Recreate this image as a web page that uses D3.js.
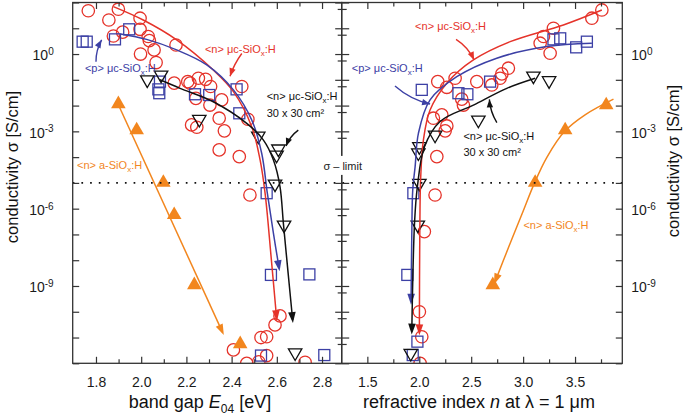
<!DOCTYPE html>
<html><head><meta charset="utf-8">
<script src="https://cdn.jsdelivr.net/npm/d3@7"></script>
<style>body{margin:0;background:#fff}svg{font-family:"Liberation Sans",Arial,sans-serif;display:block}</style>
</head><body><svg id="c" width="685" height="420"></svg>
<script>
// ---- data: [x, log10(conductivity / S cm^-1)] ----
// left panel: band gap E04 [eV]
const nMicroGap = [[1.766,1.68],[1.899,1.74],[1.857,1.32],[1.995,1.39],[1.918,0.85],[1.877,0.70],[1.995,0.96],[2.031,0.68],[2.036,0.52],[2.057,0.16],[1.997,0.0],[2.154,0.35],[2.066,-0.33],[2.146,-1.13],[2.206,-1.07],[2.216,-1.13],[2.253,-0.94],[2.285,-0.98],[2.307,-1.26],[2.242,-1.72],[2.304,-1.98],[2.356,-1.78],[2.345,-2.49],[2.223,-2.75],[2.246,-2.84],[2.368,-2.98],[2.345,-3.72],[2.434,-3.98],[2.445,-1.26],[2.472,-2.53],[2.481,-5.47],[2.408,-11.48],[2.530,-11.0],[2.555,-10.97],[2.592,-10.51],[2.614,-10.16],[2.555,-11.70],[2.467,-12.0],[2.52,-11.94],[2.725,-11.96]];
const pMicroGap = [[1.741,0.48],[1.759,0.48],[1.884,0.57],[1.947,0.96],[2.083,-1.07],[2.076,-1.37],[2.080,-1.52],[2.238,-1.56],[2.301,-1.59],[2.422,-1.37],[2.434,-2.30],[2.555,-5.40],[2.574,-8.57],[2.744,-8.55],[2.530,-11.70],[2.810,-11.68]];
const nLargeGap = [[2.027,-1.0],[2.088,-0.81],[2.257,-2.53],[2.518,-3.18],[2.607,-3.68],[2.599,-3.92],[2.592,-5.04],[2.632,-6.63],[2.681,-11.59]];
const nAmorphGap = [[1.899,-1.94],[1.980,-2.95],[2.098,-4.99],[2.146,-6.24],[2.235,-8.96],[2.438,-11.25]];
// guide curves (left)
const nMicroGapFit = [[1.877,1.84],[2.009,1.32],[2.157,0.55],[2.319,-0.62],[2.408,-1.46],[2.489,-2.82],[2.526,-4.11],[2.548,-5.40],[2.574,-7.8],[2.599,-10.25]];
const pMicroGapFit = [[1.909,0.78],[2.024,0.57],[2.157,0.16],[2.290,-0.42],[2.408,-1.39],[2.489,-2.56],[2.533,-3.85],[2.558,-5.40],[2.584,-6.9],[2.610,-8.31]];
const nLargeGapFit = [[2.083,-1.0],[2.172,-1.33],[2.319,-1.85],[2.467,-2.69],[2.540,-3.33],[2.585,-4.11],[2.614,-5.14],[2.629,-6.57],[2.650,-8.5],[2.670,-10.32]];
const nAmorphGapFit = [[1.891,-1.81],[2.36,-10.8]];
// right panel: refractive index n at 1 um
const nMicroN = [[3.758,1.71],[3.662,1.39],[3.292,1.0],[3.196,0.68],[3.164,0.42],[3.260,0.03],[2.858,-0.55],[2.795,-0.77],[2.778,-0.94],[2.698,-1.20],[2.554,-1.07],[2.345,-0.94],[2.178,-1.07],[2.265,-1.29],[2.409,-1.75],[2.425,-1.98],[2.217,-2.36],[2.136,-2.49],[2.265,-2.79],[2.249,-2.98],[2.169,-3.98],[2.152,-5.47],[2.049,-6.89],[2.001,-10.0],[2.024,-10.97],[2.008,-12.0]];
const pMicroN = [[3.614,0.48],[3.511,0.26],[3.357,0.61],[3.292,0.57],[2.024,-1.39],[2.377,-1.52],[2.463,-1.56],[2.682,-1.07],[1.943,-5.40],[1.885,-8.57],[1.982,-11.16],[1.937,-11.68]];
const nLargeN = [[3.099,-0.85],[3.250,-1.03],[2.569,-2.56],[2.152,-3.14],[2.001,-3.59],[1.991,-3.83],[2.001,-5.01],[1.986,-6.63],[1.918,-11.61]];
const nAmorphN = [[3.800,-1.98],[3.405,-2.95],[3.116,-4.99],[2.708,-8.96]];
// guide curves (right)
const nMicroNFit = [[3.758,1.71],[3.388,1.13],[2.875,0.48],[2.521,-0.23],[2.265,-1.13],[2.104,-2.17],[2.040,-3.33],[2.014,-4.76],[2.005,-7.0],[2.001,-10.8]];
const pMicroNFit = [[3.662,0.42],[3.228,0.29],[2.746,-0.16],[2.361,-0.88],[2.104,-1.78],[1.992,-3.07],[1.960,-4.37],[1.937,-5.28],[1.928,-7.0],[1.921,-9.61]];
const nLargeNFit = [[3.116,-0.94],[2.843,-1.33],[2.521,-1.98],[2.2,-2.62],[2.05,-3.6],[1.982,-5.14],[1.955,-6.5],[1.928,-10.77]];
const nAmorphNFit = [[3.87,-1.75],[3.60,-2.35],[3.40,-3.0],[3.23,-4.0],[3.11,-5.0],[2.99,-6.2],[2.86,-7.5],[2.73,-8.83]];
// ticks
const gapMajor = [1.8,2.0,2.2,2.4,2.6,2.8];
const gapMinor = [1.9,2.1,2.3,2.5,2.7];
const nMajor = [1.5,2.0,2.5,3.0,3.5];
const nMinor = [1.75,2.25,2.75,3.25,3.75];
const decades = d3.range(-12,3).map(e=>Math.pow(10,e));
const labeledDecades = [0,-3,-6,-9];
const sigmaLimit = -5;

// ---- layout ----
const red="#e5332a", blue="#3c40a5", orange="#f2861e", black="#111";
const svg=d3.select("#c");
const B={l:72.7,m:341.7,r:622.3,t:2.5,b:363.3};
const xL=d3.scaleLinear().domain([1.697,2.887]).range([B.l,B.m]);
const xR=d3.scaleLinear().domain([1.253,3.955]).range([B.m,B.r]);
const y=d3.scaleLog().domain([1e-12,1e2]).range([B.b,B.t]);
const Y=v=>y(Math.pow(10,v));

const defs=svg.append("defs");
defs.append("clipPath").attr("id","cl").append("rect").attr("x",B.l).attr("y",B.t).attr("width",B.m-B.l).attr("height",B.b-B.t);
defs.append("clipPath").attr("id","cr").append("rect").attr("x",B.m).attr("y",B.t).attr("width",B.r-B.m).attr("height",B.b-B.t);

function head(g,x2,y2,x1,y1,color,L=10,W=3.6){
  const a=Math.atan2(y2-y1,x2-x1);
  const bx=x2-L*Math.cos(a), by=y2-L*Math.sin(a);
  const px=-Math.sin(a)*W, py=Math.cos(a)*W;
  g.append("path").attr("d",`M${x2},${y2}L${bx+px},${by+py}L${bx-px},${by-py}Z`).attr("fill",color);
}

function panel(clip,x,S){
  const g=svg.append("g").attr("clip-path",`url(#${clip})`);
  const circ=g.append("g");
  circ.selectAll("circle").data(S.red).join("circle").attr("cx",d=>x(d[0])).attr("cy",d=>Y(d[1])).attr("r",6.2).attr("fill","none").attr("stroke",red).attr("stroke-width",1.3);
  g.append("g").selectAll("rect").data(S.blue).join("rect").attr("x",d=>x(d[0])-5.5).attr("y",d=>Y(d[1])-5.5).attr("width",11).attr("height",11).attr("fill","none").attr("stroke",blue).attr("stroke-width",1.3);
  const tri=d3.symbol(d3.symbolTriangle,78);
  g.append("g").selectAll("path").data(S.black).join("path").attr("d",tri).attr("transform",d=>`translate(${x(d[0])},${Y(d[1])}) rotate(180)`).attr("fill","none").attr("stroke",black).attr("stroke-width",1.3);
  const tri2=d3.symbol(d3.symbolTriangle,92);
  g.append("g").selectAll("path").data(S.orange).join("path").attr("d",tri2).attr("transform",d=>`translate(${x(d[0])},${Y(d[1])})`).attr("fill",orange);
  const line=d3.line().x(d=>x(d[0])).y(d=>Y(d[1])).curve(d3.curveCatmullRom.alpha(0.5));
  [[S.fitRed,red],[S.fitBlue,blue],[S.fitBlack,black],[S.fitOrange,orange]].forEach(([pts,c])=>{
    g.append("path").attr("d",line(pts)).attr("fill","none").attr("stroke",c).attr("stroke-width",1.5);
    const n=pts.length, p2=pts[n-1], p1=pts[n-2];
    const x2=x(p2[0]),y2=Y(p2[1]),x1=x(p1[0]),y1=Y(p1[1]);
    const a=Math.atan2(y2-y1,x2-x1);
    head(g,x2+3*Math.cos(a),y2+3*Math.sin(a),x1,y1,c,11,3.8);
  });
}
panel("cl",xL,{red:nMicroGap,blue:pMicroGap,black:nLargeGap,orange:nAmorphGap,fitRed:nMicroGapFit,fitBlue:pMicroGapFit,fitBlack:nLargeGapFit,fitOrange:nAmorphGapFit});
panel("cr",xR,{red:nMicroN,blue:pMicroN,black:nLargeN,orange:nAmorphN,fitRed:nMicroNFit,fitBlue:pMicroNFit,fitBlack:nLargeNFit,fitOrange:nAmorphNFit});

// sigma limit dotted line
svg.append("line").attr("x1",B.l).attr("x2",B.r).attr("y1",Y(sigmaLimit)).attr("y2",Y(sigmaLimit)).attr("stroke","#111").attr("stroke-width",1.7).attr("stroke-dasharray","1.7,7");

// ---- axes ----
function styleAxis(g){
  g.select(".domain").remove();
  g.selectAll("line").attr("stroke","#333").attr("stroke-width",1.2);
  g.attr("font-size",14).attr("font-family","'Liberation Sans',Arial,sans-serif");
  g.selectAll("text").attr("fill","#1a1a1a");
  return g;
}
function xAxes(x,maj,min){
  styleAxis(svg.append("g").attr("transform",`translate(0,${B.b})`).call(d3.axisBottom(x).tickValues(maj).tickSizeInner(-6.5).tickSizeOuter(0).tickPadding(13.5).tickFormat(d3.format(".1f"))));
  styleAxis(svg.append("g").attr("transform",`translate(0,${B.b})`).call(d3.axisBottom(x).tickValues(min).tickSizeInner(-4).tickSizeOuter(0).tickFormat("")));
  styleAxis(svg.append("g").attr("transform",`translate(0,${B.t})`).call(d3.axisTop(x).tickValues(maj).tickSizeInner(-6.5).tickSizeOuter(0).tickFormat("")));
  styleAxis(svg.append("g").attr("transform",`translate(0,${B.t})`).call(d3.axisTop(x).tickValues(min).tickSizeInner(-4).tickSizeOuter(0).tickFormat("")));
}
xAxes(xL,gapMajor,gapMinor);
xAxes(xR,nMajor,nMinor);

function supLabels(g){
  g.selectAll(".tick text").each(function(d){
    const e=Math.round(Math.log10(d)); const t=d3.select(this); t.text(null);
    if(!labeledDecades.includes(e)) return;
    t.attr("dy","0.42em");
    t.append("tspan").text("10");
    t.append("tspan").attr("dy","-0.55em").attr("font-size","10px").text(String(e));
  });
}
const gl=styleAxis(svg.append("g").attr("transform",`translate(${B.l},0)`).call(d3.axisLeft(y).tickValues(decades).tickSizeInner(-6.5).tickSizeOuter(0).tickPadding(19)));
supLabels(gl);
const gr=styleAxis(svg.append("g").attr("transform",`translate(${B.r},0)`).call(d3.axisRight(y).tickValues(decades).tickSizeInner(-6.5).tickSizeOuter(0).tickPadding(9)));
supLabels(gr);
// middle axis: ticks on both sides
styleAxis(svg.append("g").attr("transform",`translate(${B.m},0)`).call(d3.axisLeft(y).tickValues(decades).tickSizeInner(6.5).tickSizeOuter(0).tickFormat("")));
styleAxis(svg.append("g").attr("transform",`translate(${B.m},0)`).call(d3.axisRight(y).tickValues(decades).tickSizeInner(7.5).tickSizeOuter(0).tickFormat("")));
const offs=decades.map(d=>d*Math.pow(10,-0.25)).filter(d=>d>1e-12);
styleAxis(svg.append("g").attr("transform",`translate(${B.m},0)`).call(d3.axisLeft(y).tickValues(offs).tickSizeInner(4).tickSizeOuter(0).tickFormat("")));
styleAxis(svg.append("g").attr("transform",`translate(${B.m},0)`).call(d3.axisRight(y).tickValues(offs).tickSizeInner(5).tickSizeOuter(0).tickFormat("")));

// frames
[[B.l,B.m],[B.m,B.r]].forEach(([a,b])=>svg.append("rect").attr("x",a).attr("y",B.t).attr("width",b-a).attr("height",B.b-B.t).attr("fill","none").attr("stroke","#333").attr("stroke-width",1.3));

// sigma-limit label
const sy=Y(sigmaLimit);
svg.append("rect").attr("x",B.m-21).attr("y",sy-27).attr("width",43).attr("height",19).attr("fill","#fff");
svg.append("text").attr("x",B.m+1).attr("y",sy-12.5).attr("text-anchor","middle").attr("font-size",11).attr("fill","#222").text("σ – limit");

// ---- annotations ----
function sioxText(x,y,pre,color,anchor){
  const t=svg.append("text").attr("x",x).attr("y",y).attr("font-size",11).attr("fill",color).attr("text-anchor",anchor||"start");
  t.append("tspan").text(pre);
  t.append("tspan").attr("font-size","8px").attr("dy",3).text("x");
  t.append("tspan").attr("dy",-3).text(":H");
  return t;
}
function annArrow(x,a,b,bend,color){
  const x1=x(a[0]),y1=Y(a[1]),x2=x(b[0]),y2=Y(b[1]);
  const mx=(x1+x2)/2,my=(y1+y2)/2,len=Math.hypot(x2-x1,y2-y1);
  const cx=mx-(y2-y1)/len*bend, cy=my+(x2-x1)/len*bend;
  svg.append("path").attr("d",`M${x1},${y1}Q${cx},${cy} ${x2},${y2}`).attr("fill","none").attr("stroke",color).attr("stroke-width",1.4);
  head(svg,x2,y2,cx,cy,color,8,3.2);
}
// left
sioxText(xL(2.282),Y(0.04),"<n> μc-SiO",red);
annArrow(xL,[2.445,0.02],[2.393,-0.86],2,red);
sioxText(xL(1.751),Y(-0.69),"<p> μc-SiO",blue);
annArrow(xL,[1.800,-0.30],[1.825,0.55],-3,blue);
sioxText(xL(2.555),Y(-1.80),"<n> μc-SiO",black);
svg.append("text").attr("x",xL(2.555)).attr("y",Y(-2.46)).attr("font-size",11).attr("fill",black).text("30 x 30 cm²");
annArrow(xL,[2.695,-2.95],[2.641,-3.57],3,black);
sioxText(xL(1.716),Y(-4.46),"<n> a-SiO",orange);
// right
sioxText(xR(1.960),Y(0.94),"<n> μc-SiO",red);
annArrow(xR,[2.354,0.57],[2.528,-0.23],-4,red);
sioxText(xR(1.350),Y(-0.69),"<p> μc-SiO",blue);
annArrow(xR,[1.766,-1.24],[2.104,-1.94],5,blue);
sioxText(xR(2.425),Y(-3.33),"<n> μc-SiO",black);
svg.append("text").attr("x",xR(2.425)).attr("y",Y(-3.96)).attr("font-size",11).attr("fill",black).text("30 x 30 cm²");
annArrow(xR,[2.747,-2.66],[2.675,-1.76],-3,black);
sioxText(xR(3.003),Y(-6.79),"<n> a-SiO",orange);

// ---- titles ----
const tl=svg.append("text").attr("x",200).attr("y",408).attr("text-anchor","middle").attr("font-size",18).attr("fill","#111");
tl.append("tspan").text("band gap ");
tl.append("tspan").attr("font-style","italic").text("E");
tl.append("tspan").attr("font-size","12px").attr("dy",5).text("04");
tl.append("tspan").attr("dy",-5).text(" [eV]");
const tr=svg.append("text").attr("x",479).attr("y",408).attr("text-anchor","middle").attr("font-size",18).attr("fill","#111");
tr.append("tspan").text("refractive index ");
tr.append("tspan").attr("font-style","italic").text("n");
tr.append("tspan").text(" at λ = 1 μm");
svg.append("text").attr("transform","translate(18,167) rotate(-90)").attr("text-anchor","middle").attr("font-size",16.5).attr("fill","#111").text("conductivity σ [S/cm]");
svg.append("text").attr("transform","translate(679,161) rotate(-90)").attr("text-anchor","middle").attr("font-size",16.5).attr("fill","#111").text("conductivity σ [S/cm]");
</script></body></html>
